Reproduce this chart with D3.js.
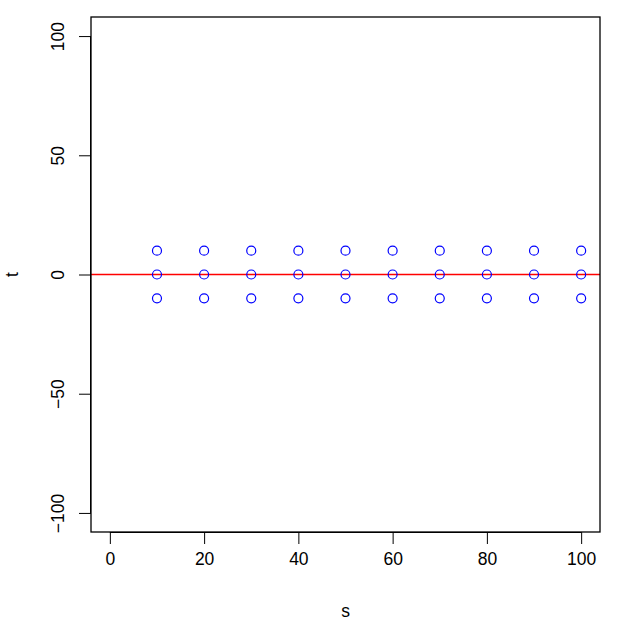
<!DOCTYPE html>
<html><head><meta charset="utf-8">
<script src="https://cdn.jsdelivr.net/npm/d3@7"></script>
<style>body{margin:0;background:#fff}svg{display:block}text{font-family:Arial,"Liberation Sans",sans-serif}</style>
</head><body>
<script>
const sValues = [10,20,30,40,50,60,70,80,90,100];
const tValues = [-10,0,10];
const xTicks = [0,20,40,60,80,100];
const yTicks = [-100,-50,0,50,100];
const hLine = 0;

const W=634,H=639;
const L=91,R=600,T=17,B=532;
const x=d3.scaleLinear().domain([-4,104]).range([L,R]);
const y=d3.scaleLinear().domain([-108,108]).range([B,T]);
const svg=d3.select("body").append("svg").attr("width",W).attr("height",H);

const pts=[];
sValues.forEach(s=>tValues.forEach(t=>pts.push({s,t})));

svg.append("line").attr("x1",L).attr("x2",R).attr("y1",y(hLine)).attr("y2",y(hLine))
  .attr("stroke","#ff0000").attr("stroke-width",1.5);

svg.selectAll("circle.p").data(pts).enter().append("circle")
  .attr("cx",d=>x(d.s)).attr("cy",d=>y(d.t)).attr("r",4.5)
  .attr("fill","none").attr("stroke","#0000ff").attr("stroke-width",1.2);

svg.append("rect").attr("x",L).attr("y",T).attr("width",R-L).attr("height",B-T)
  .attr("fill","none").attr("stroke","#000").attr("stroke-width",1.3);

const fmt=d=>String(d).replace("-","\u2212");
const xa=svg.append("g").attr("transform",`translate(0,${B})`)
  .call(d3.axisBottom(x).tickValues(xTicks).tickFormat(fmt).tickSize(12).tickSizeOuter(0).tickPadding(9));
xa.select(".domain").attr("d",`M${x(0)},0.5H${x(100)}`).attr("stroke","#000");
xa.selectAll("text").attr("font-size","17.5px").attr("fill","#000").attr("font-family","Arial,'Liberation Sans',sans-serif");

const ya=svg.append("g").attr("transform",`translate(${L},0)`)
  .call(d3.axisLeft(y).tickValues(yTicks).tickFormat(fmt).tickSize(12).tickSizeOuter(0));
ya.select(".domain").attr("d",`M-0.5,${y(-100)}V${y(100)}`).attr("stroke","#000");
ya.selectAll("text").attr("font-size","17.5px").attr("fill","#000")
  .attr("font-family","Arial,'Liberation Sans',sans-serif")
  .attr("text-anchor","middle").attr("dy",null)
  .attr("transform","translate(-27,0) rotate(-90)")
  .attr("x",0).attr("y",0);

svg.append("text").attr("x",(L+R)/2).attr("y",617).attr("text-anchor","middle")
  .attr("font-size","17.5px").text("s");
svg.append("text").attr("transform",`translate(18,${(T+B)/2}) rotate(-90)`).attr("text-anchor","middle")
  .attr("font-size","17.5px").text("t");
</script>
</body></html>
